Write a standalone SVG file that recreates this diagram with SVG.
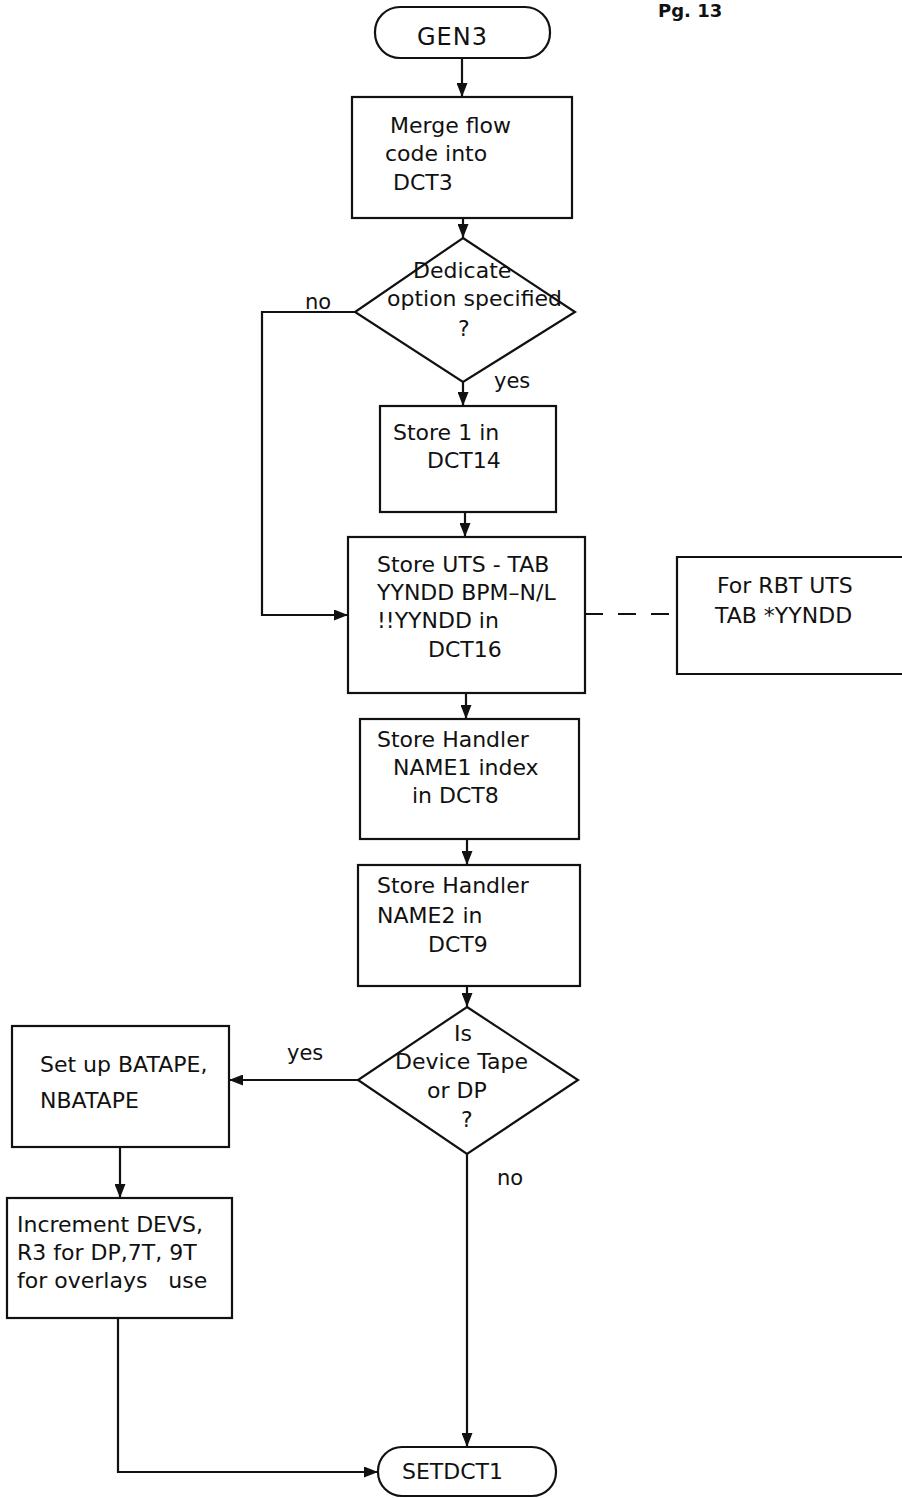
<svg xmlns="http://www.w3.org/2000/svg" width="902" height="1498" viewBox="0 0 902 1498">
<style>
.shape{fill:none;stroke:#111;stroke-width:2.2}
.conn{fill:none;stroke:#111;stroke-width:2.2}
.dash{fill:none;stroke:#111;stroke-width:2.2;stroke-dasharray:18 15}
text{font-family:"DejaVu Sans","Liberation Sans",sans-serif;font-size:22px;fill:#111}
.lbl{font-size:21px}
.big{font-size:24px;letter-spacing:1px}
.pg{font-size:18px;font-weight:bold}
</style>
<defs>
<marker id="ah" markerWidth="14" markerHeight="11" refX="14" refY="5.5" orient="auto" markerUnits="userSpaceOnUse">
<path d="M0,0 L14,5.5 L0,11 Z" fill="#111"/>
</marker>
</defs>
<rect width="902" height="1498" fill="#fff"/>
<text class="pg" x="658" y="17">Pg. 13</text>

<g id="connectors">
<line class="conn" x1="462" y1="58" x2="462" y2="97" marker-end="url(#ah)"/>
<line class="conn" x1="463" y1="218" x2="463" y2="238" marker-end="url(#ah)"/>
<polyline class="conn" points="355,312 262,312 262,615 348,615" marker-end="url(#ah)"/>
<line class="conn" x1="463" y1="382" x2="463" y2="406" marker-end="url(#ah)"/>
<line class="conn" x1="465" y1="512" x2="465" y2="537" marker-end="url(#ah)"/>
<line class="dash" x1="585" y1="614" x2="677" y2="614"/>
<line class="conn" x1="466" y1="693" x2="466" y2="719" marker-end="url(#ah)"/>
<line class="conn" x1="467" y1="839" x2="467" y2="865" marker-end="url(#ah)"/>
<line class="conn" x1="467" y1="986" x2="467" y2="1007" marker-end="url(#ah)"/>
<line class="conn" x1="358" y1="1080" x2="229" y2="1080" marker-end="url(#ah)"/>
<line class="conn" x1="120" y1="1147" x2="120" y2="1198" marker-end="url(#ah)"/>
<line class="conn" x1="467" y1="1154" x2="467" y2="1447" marker-end="url(#ah)"/>
<polyline class="conn" points="118,1318 118,1472 378,1472" marker-end="url(#ah)"/>
<text class="lbl" x="305" y="309">no</text>
<text class="lbl" x="494" y="388">yes</text>
<text class="lbl" x="287" y="1060">yes</text>
<text class="lbl" x="497" y="1185">no</text>
</g>

<g id="gen3">
<rect class="shape" x="375" y="7" width="175" height="51" rx="25" ry="25"/>
<text class="big" x="417" y="45">GEN3</text>
</g>

<g id="merge">
<rect class="shape" x="352" y="97" width="220" height="121"/>
<text x="390" y="133">Merge flow</text>
<text x="385" y="161">code into</text>
<text x="393" y="190">DCT3</text>
</g>

<g id="dedicate">
<polygon class="shape" points="463,238 575,312 463,382 355,312"/>
<text x="413" y="278">Dedicate</text>
<text x="387" y="306">option specified</text>
<text x="458" y="336">?</text>
</g>

<g id="store1">
<rect class="shape" x="380" y="406" width="176" height="106"/>
<text x="393" y="440">Store 1 in</text>
<text x="427" y="468">DCT14</text>
</g>

<g id="storeuts">
<rect class="shape" x="348" y="537" width="237" height="156"/>
<text x="377" y="572">Store UTS - TAB</text>
<text x="377" y="600">YYNDD BPM–N/L</text>
<text x="377" y="628">!!YYNDD in</text>
<text x="428" y="657">DCT16</text>
</g>

<g id="rbtnote">
<polyline class="shape" points="906,557 677,557 677,674 906,674"/>
<text x="717" y="593">For RBT UTS</text>
<text x="715" y="623">TAB *YYNDD</text>
</g>

<g id="handler1">
<rect class="shape" x="360" y="719" width="219" height="120"/>
<text x="377" y="747">Store Handler</text>
<text x="393" y="775">NAME1 index</text>
<text x="412" y="803">in DCT8</text>
</g>

<g id="handler2">
<rect class="shape" x="358" y="865" width="222" height="121"/>
<text x="377" y="893">Store Handler</text>
<text x="377" y="923">NAME2 in</text>
<text x="428" y="952">DCT9</text>
</g>

<g id="device">
<polygon class="shape" points="467,1007 578,1080 467,1154 358,1080"/>
<text x="454" y="1041">Is</text>
<text x="395" y="1069">Device Tape</text>
<text x="427" y="1098">or DP</text>
<text x="461" y="1127">?</text>
</g>

<g id="setup">
<rect class="shape" x="12" y="1026" width="217" height="121"/>
<text x="40" y="1072">Set up BATAPE,</text>
<text x="40" y="1108">NBATAPE</text>
</g>

<g id="increment">
<rect class="shape" x="7" y="1198" width="225" height="120"/>
<text x="17" y="1232">Increment DEVS,</text>
<text x="17" y="1260">R3 for DP,7T, 9T</text>
<text x="17" y="1288" xml:space="preserve">for overlays   use</text>
</g>

<g id="setdct1">
<rect class="shape" x="378" y="1447" width="178" height="49" rx="24" ry="24"/>
<text x="402" y="1479">SETDCT1</text>
</g>
</svg>
